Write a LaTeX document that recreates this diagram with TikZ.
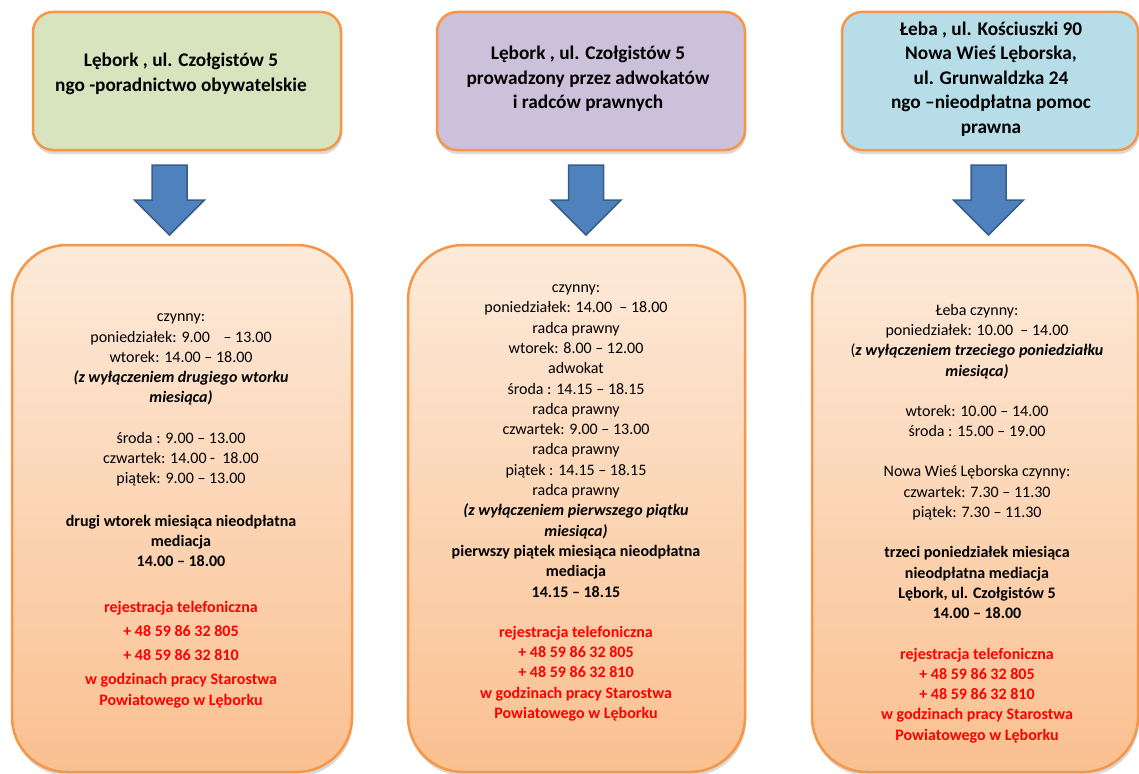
\documentclass[tikz,border=0pt]{standalone}
\usepackage{fontspec}
\setmainfont{Carlito}
\usetikzlibrary{shadows}

\definecolor{boxline}{HTML}{F79646}
\definecolor{greenbox}{HTML}{D7E4BD}
\definecolor{lilacbox}{HTML}{CCC1DA}
\definecolor{bluebox}{HTML}{B7DEE8}
\definecolor{peachtop}{HTML}{FDEADA}
\definecolor{peachbottom}{HTML}{FAC090}
\definecolor{arrowfill}{HTML}{4F81BD}
\definecolor{arrowline}{HTML}{385D8A}
\definecolor{phonered}{HTML}{FF0000}

\begin{document}
\begin{tikzpicture}[x=1pt, y=-1pt,
  placebox/.style={draw=boxline, line width=2.5pt, rounded corners=20pt, minimum height=138pt, inner sep=0pt,
    drop shadow={shadow xshift=1pt, shadow yshift=-4pt, opacity=.3}},
  hoursbox/.style={draw=boxline, line width=2.5pt, rounded corners=55pt, minimum height=527pt, inner sep=0pt,
    top color=peachtop, bottom color=peachbottom,
    drop shadow={shadow xshift=1pt, shadow yshift=-4pt, opacity=.3}},
  placetext/.style={align=center, font=\fontsize{19.3}{24.5}\selectfont\bfseries},
  hourstext/.style={align=center, font=\fontsize{16}{20.3}\selectfont},
  downarrow/.style={fill=arrowfill, draw=arrowline, line width=1.5pt, line join=miter}]
\useasboundingbox (0,0) rectangle (1139,773);

% adresy
\node[placebox, fill=greenbox, minimum width=308pt] (t1) at (187,81) {};
\node[placebox, fill=lilacbox, minimum width=308pt] (t2) at (591,81) {};
\node[placebox, fill=bluebox, minimum width=296pt] (t3) at (990,81) {};

\node[placetext] (t1txt) at (181,74) {Lębork , ul. Czołgistów 5\\ngo -poradnictwo obywatelskie};
\node[placetext] (t2txt) at (588,79) {Lębork , ul. Czołgistów 5\\prowadzony przez adwokatów\\i radców prawnych};
\node[placetext] (t3txt) at (991,79) {Łeba , ul. Kościuszki 90\\Nowa Wieś Lęborska,\\ul. Grunwaldzka 24\\ngo –nieodpłatna pomoc\\prawna};

% strzalki
\coordinate (a1) at (169.5,165);
\coordinate (a2) at (586,165);
\coordinate (a3) at (988.5,165);
\foreach \a in {a1,a2,a3}
  \draw[downarrow] ([xshift=-17.5pt]\a) -- ++(35,0) -- ++(0,35) -- ++(17.5,0) -- ++(-35,35) -- ++(-35,-35) -- ++(17.5,0) -- cycle;

% godziny
\node[hoursbox, minimum width=340pt] (b1) at (182,508.5) {};
\node[hoursbox, minimum width=337pt] (b2) at (576.5,508.5) {};
\node[hoursbox, minimum width=326pt] (b3) at (975,508.5) {};

\node[hourstext] (b1txt) at (181,511) {czynny:\\
poniedziałek: 9.00\hspace{10pt} – 13.00\\
wtorek: 14.00 – 18.00\\
\textbf{\textit{(z wyłączeniem drugiego wtorku}}\\
\textbf{\textit{miesiąca)}}\\[20pt]
środa : 9.00 – 13.00\\
czwartek: 14.00 -\ \ 18.00\\
piątek: 9.00 – 13.00\\[22pt]
\textbf{drugi wtorek miesiąca nieodpłatna}\\
\textbf{mediacja}\\
\textbf{14.00 – 18.00}\\[25pt]
\color{phonered}\bfseries rejestracja telefoniczna\\[4pt]
\color{phonered}\bfseries + 48 59 86 32 805\\[4pt]
\color{phonered}\bfseries + 48 59 86 32 810\\[4pt]
\color{phonered}\bfseries w godzinach pracy Starostwa\\
\color{phonered}\bfseries Powiatowego w Lęborku};

\node[hourstext] (b2txt) at (576,503) {czynny:\\
poniedziałek: 14.00\ \ – 18.00\\
radca prawny\\
wtorek: 8.00 – 12.00\\
adwokat\\
środa\ : 14.15 – 18.15\\
radca prawny\\
czwartek: 9.00 – 13.00\\
radca prawny\\
piątek : 14.15 – 18.15\\
radca prawny\\
\textbf{\textit{(z wyłączeniem pierwszego piątku}}\\
\textbf{\textit{miesiąca)}}\\
\textbf{pierwszy piątek miesiąca nieodpłatna}\\
\textbf{mediacja}\\
\textbf{14.15 – 18.15}\\[20pt]
\color{phonered}\bfseries rejestracja telefoniczna\\
\color{phonered}\bfseries + 48 59 86 32 805\\
\color{phonered}\bfseries + 48 59 86 32 810\\
\color{phonered}\bfseries w godzinach pracy Starostwa\\
\color{phonered}\bfseries Powiatowego w Lęborku};

\node[hourstext] (b3txt) at (977,523.5) {Łeba czynny:\\
poniedziałek: 10.00\ \ – 14.00\\
(\textbf{\textit{z wyłączeniem trzeciego poniedziałku}}\\
\textbf{\textit{miesiąca)}}\\[20pt]
wtorek: 10.00 – 14.00\\
środa : 15.00 – 19.00\\[20pt]
Nowa Wieś Lęborska czynny:\\
czwartek: 7.30 – 11.30\\
piątek: 7.30 – 11.30\\[20pt]
\textbf{trzeci poniedziałek miesiąca}\\
\textbf{nieodpłatna mediacja}\\
\textbf{Lębork, ul. Czołgistów 5}\\
\textbf{14.00 – 18.00}\\[20pt]
\color{phonered}\bfseries rejestracja telefoniczna\\
\color{phonered}\bfseries + 48 59 86 32 805\\
\color{phonered}\bfseries + 48 59 86 32 810\\
\color{phonered}\bfseries w godzinach pracy Starostwa\\
\color{phonered}\bfseries Powiatowego w Lęborku};
\end{tikzpicture}
\end{document}
